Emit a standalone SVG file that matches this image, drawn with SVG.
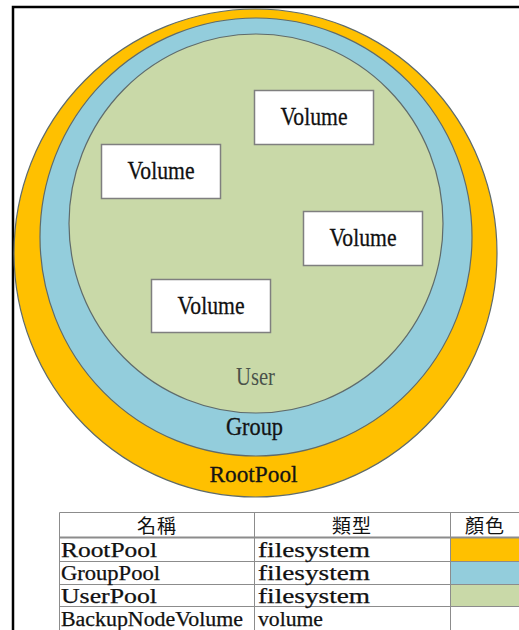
<svg xmlns="http://www.w3.org/2000/svg" width="519" height="630" viewBox="0 0 519 630">
  <style>
    .ring { stroke: #5f6b6b; stroke-width: 1.2; }
    .vol rect { fill: #ffffff; stroke: #7f7f7f; stroke-width: 1.5; }
    .lbl { font-family: "Liberation Serif", "Noto Sans CJK TC", serif; fill: #141414; stroke: #141414; stroke-width: 0.3; }
    .vol text { font-family: "Liberation Serif", serif; font-size: 26px; fill: #111; stroke: #111; stroke-width: 0.3; text-anchor: middle; }
    .cell { font-family: "Liberation Serif", serif; font-size: 20px; fill: #111; stroke: #111; stroke-width: 0.25; }
    .head { font-family: "Noto Sans CJK TC", "Liberation Serif", sans-serif; font-size: 19px; fill: #111; text-anchor: middle; }
    .grid { stroke: #8c8c8c; stroke-width: 1; fill: none; }
  </style>

  <!-- page frame -->
  <path d="M13,630 V7 H519" fill="none" stroke="#000" stroke-width="2.5"/>

  <!-- nested pools -->
  <g id="rootpool">
    <ellipse class="ring" cx="255.5" cy="253" rx="241.5" ry="244" fill="#FFC000"/>
    <text class="lbl" x="253.5" y="482" font-size="24" text-anchor="middle" textLength="88" lengthAdjust="spacingAndGlyphs">RootPool</text>
  </g>
  <g id="grouppool">
    <ellipse class="ring" cx="256" cy="237" rx="216" ry="219" fill="#93CDDC"/>
    <text class="lbl" x="254.5" y="435" font-size="25" text-anchor="middle" textLength="57" lengthAdjust="spacingAndGlyphs">Group</text>
  </g>
  <g id="userpool">
    <ellipse class="ring" cx="256" cy="223.5" rx="187" ry="189.5" fill="#C9D9A8"/>
    <text class="lbl" x="255.5" y="385" font-size="25" text-anchor="middle" textLength="39" lengthAdjust="spacingAndGlyphs" style="fill:#4a524a;stroke:none">User</text>
  </g>

  <!-- volumes inside the user pool -->
  <g id="volume-1" class="vol">
    <rect x="254.5" y="90.5" width="119" height="54"/>
    <text x="314" y="125" textLength="67" lengthAdjust="spacingAndGlyphs">Volume</text>
  </g>
  <g id="volume-2" class="vol">
    <rect x="101.5" y="144.5" width="119" height="54"/>
    <text x="161" y="179" textLength="67" lengthAdjust="spacingAndGlyphs">Volume</text>
  </g>
  <g id="volume-3" class="vol">
    <rect x="303.5" y="211.5" width="119" height="54"/>
    <text x="363" y="246" textLength="67" lengthAdjust="spacingAndGlyphs">Volume</text>
  </g>
  <g id="volume-4" class="vol">
    <rect x="151.5" y="279.5" width="119" height="53"/>
    <text x="211" y="313.5" textLength="67" lengthAdjust="spacingAndGlyphs">Volume</text>
  </g>

  <!-- legend table -->
  <g id="legend">
    <rect x="451" y="538" width="68" height="23" fill="#FFC000"/>
    <rect x="451" y="562" width="68" height="22" fill="#93CDDC"/>
    <rect x="451" y="585" width="68" height="21" fill="#C9D9A8"/>

    <path class="grid" d="M59.5,630 V512.5 H519 M59.5,561.5 H519 M59.5,584.5 H519 M59.5,606.5 H519 M254.5,512.5 V630 M450.5,512.5 V630"/>
    <path d="M59.5,537.5 H519" stroke="#8c8c8c" stroke-width="2"/>

    <text class="head" x="157" y="533" letter-spacing="1">名稱</text>
    <text class="head" x="352" y="533" letter-spacing="1">類型</text>
    <text class="head" x="485" y="533" letter-spacing="1">顏色</text>

    <text class="cell" x="61" y="557" textLength="96" lengthAdjust="spacingAndGlyphs">RootPool</text>
    <text class="cell" x="61" y="580" textLength="99" lengthAdjust="spacingAndGlyphs">GroupPool</text>
    <text class="cell" x="61" y="602.5" textLength="96" lengthAdjust="spacingAndGlyphs">UserPool</text>
    <text class="cell" x="61" y="626" textLength="182" lengthAdjust="spacingAndGlyphs">BackupNodeVolume</text>

    <text class="cell" x="258" y="557" textLength="112" lengthAdjust="spacingAndGlyphs">filesystem</text>
    <text class="cell" x="258" y="580" textLength="112" lengthAdjust="spacingAndGlyphs">filesystem</text>
    <text class="cell" x="258" y="602.5" textLength="112" lengthAdjust="spacingAndGlyphs">filesystem</text>
    <text class="cell" x="258" y="626" textLength="65" lengthAdjust="spacingAndGlyphs">volume</text>
  </g>
</svg>
